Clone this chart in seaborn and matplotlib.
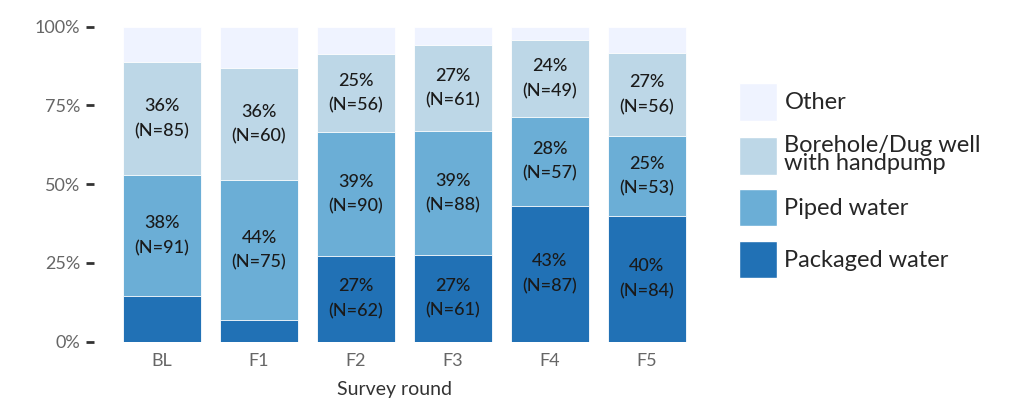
import matplotlib
matplotlib.use("Agg")
import matplotlib.pyplot as plt
import matplotlib.patches as mpatches
import seaborn as sns
import pandas as pd
import numpy as np

# survey rounds and share (%) of households by main drinking water source
rounds = ["BL", "F1", "F2", "F3", "F4", "F5"]
packaged = [14.5, 6.9, 27.2, 27.4, 43.1, 39.9]
piped = [38.3, 44.4, 39.3, 39.4, 28.2, 25.2]
borehole = [35.9, 35.6, 24.7, 27.4, 24.4, 26.6]
other = [100 - a - b - c for a, b, c in zip(packaged, piped, borehole)]

# respondent counts printed in the bars
n_packaged = [35, 12, 62, 61, 87, 84]
n_piped = [91, 75, 90, 88, 57, 53]
n_borehole = [85, 60, 56, 61, 49, 56]

sources = ["Packaged water", "Piped water", "Borehole/Dug well\nwith handpump", "Other"]
colors = ["#2171b5", "#6baed6", "#bdd7e7", "#eff3ff"]

sns.set_style("white")
plt.rcParams["font.family"] = ["Lato", "DejaVu Sans"]

df = pd.DataFrame({"round": rounds, "packaged": packaged, "piped": piped,
                   "borehole": borehole, "other": other})
layers = ["packaged", "piped", "borehole", "other"]
cum = df[layers].cumsum(axis=1)

fig = plt.figure(figsize=(10.24, 4.15), dpi=100)
ax = fig.add_axes([0.092, 0.177, 0.587, 0.759])

# draw stacked bars from top layer down so the lower ones cover them
for layer, col in reversed(list(zip(layers, colors))):
    sns.barplot(x=df["round"], y=cum[layer], color=col, width=0.8,
                edgecolor="white", linewidth=0.6, ax=ax, saturation=1)

labels_n = {"packaged": n_packaged, "piped": n_piped, "borehole": n_borehole}
for layer in ["packaged", "piped", "borehole"]:
    bottoms = cum[layer] - df[layer]
    for i, (v, b) in enumerate(zip(df[layer], bottoms)):
        if v < 20:
            continue
        ax.text(i, b + v / 2, f"{v:.0f}%\n(N={labels_n[layer][i]})",
                ha="center", va="center", fontsize=13, color="#1a1a1a",
                fontweight="medium", linespacing=1.65)

ax.set_xlim(-0.7, 5.5)
ax.set_ylim(0, 100)
ax.set_yticks([0, 25, 50, 75, 100])
ax.set_yticklabels(["0%", "25%", "50%", "75%", "100%"])
ax.set_xlabel("Survey round", fontsize=14, color="#333333", labelpad=9)
ax.set_ylabel("")
ax.tick_params(axis="y", length=6, width=2, color="#333333", labelcolor="#666666",
               labelsize=13, pad=4, left=True)
ax.tick_params(axis="x", length=0, labelcolor="#666666", labelsize=13, pad=8)
sns.despine(ax=ax, left=True, bottom=True)

handles = [mpatches.Patch(facecolor=c, edgecolor="white", label=s)
           for s, c in zip(sources, colors)][::-1]
fig.legend(handles=handles, loc="upper left", bbox_to_anchor=(0.722, 0.80),
           frameon=False, fontsize=17, handlelength=1.61, handleheight=2.07,
           handletextpad=0.3, labelspacing=0.61, borderpad=0, borderaxespad=0)
for t in fig.legends[0].get_texts():
    t.set_linespacing(0.85)

fig.savefig("out.png", dpi=100, facecolor="white")
